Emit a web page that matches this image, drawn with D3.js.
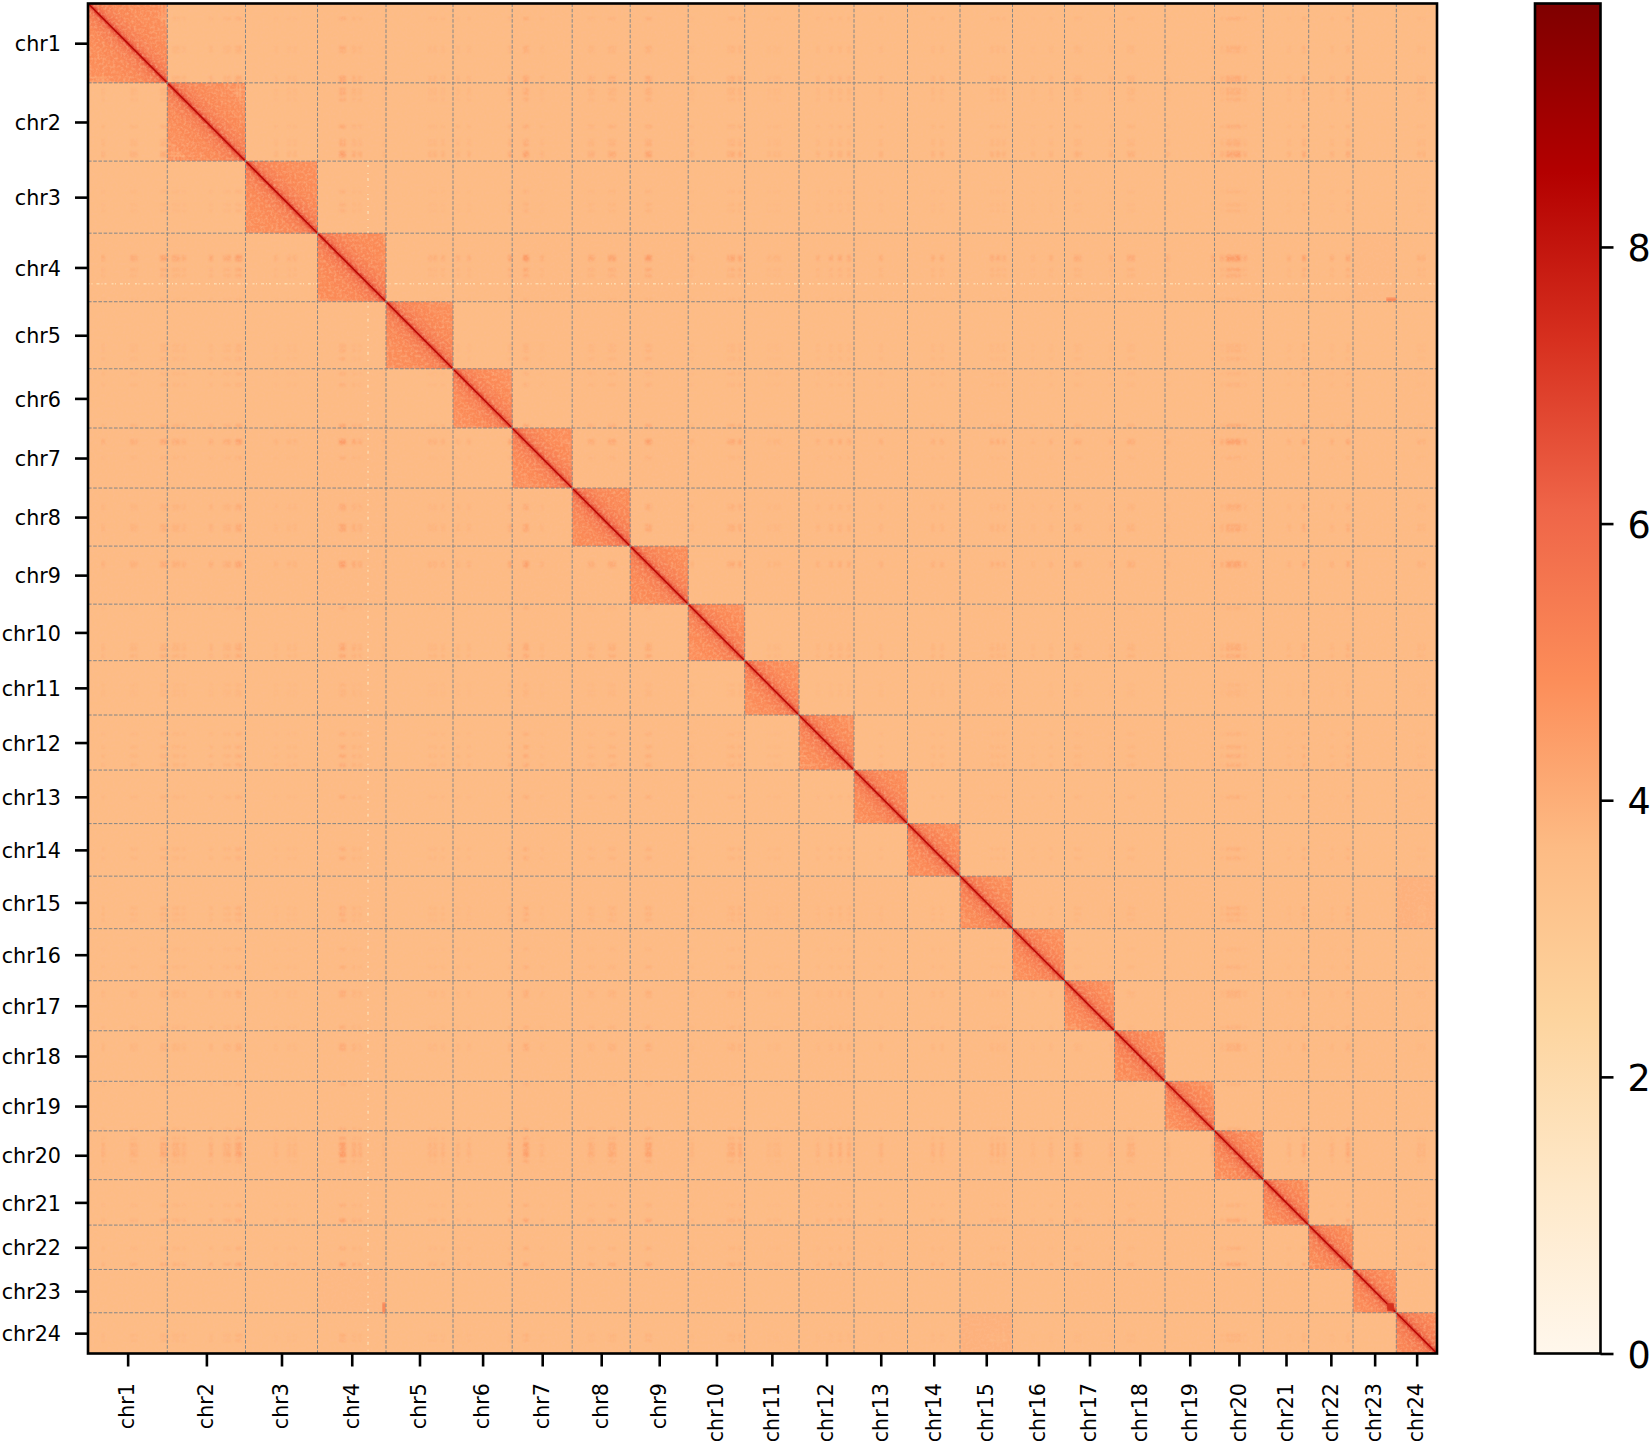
<!DOCTYPE html>
<html><head><meta charset="utf-8">
<script src="https://cdn.jsdelivr.net/npm/d3@7"></script>
<style>html,body{margin:0;background:#fff}svg{display:block}text{font-family:"DejaVu Sans",sans-serif;fill:#000}</style>
</head><body><svg id="c" width="1650" height="1444"></svg>
<script>
// Chromosomes and lengths (genome units, read from the block boundaries)
const chromNames = ["chr1","chr2","chr3","chr4","chr5","chr6","chr7","chr8","chr9","chr10","chr11","chr12","chr13","chr14","chr15","chr16","chr17","chr18","chr19","chr20","chr21","chr22","chr23","chr24"];
const chromLengths = [79.3,78.2,72,68.5,67,59.2,60,58,58,56.5,54.3,55,53.5,52.5,52.5,52,50,50.5,49.5,48.8,45.4,44.3,43.3,40.7];
// Mean contact level of each chromosome with the others
const interLevels = [3.6,3.6,3.6,3.68,3.6,3.62,3.68,3.68,3.68,3.64,3.62,3.64,3.62,3.62,3.66,3.62,3.64,3.64,3.64,3.68,3.64,3.66,3.64,3.66];
// Pairs with raised inter-chromosomal contact: [chrA, chrB, level]
const interPairs = [[14,23,3.92],[22,3,3.7]];
// Mean level far from the diagonal inside each chromosome's own block
const blockLevels = [4.85,4.85,4.85,4.9,4.85,4.8,4.8,4.9,4.85,4.8,4.8,4.85,4.85,4.8,4.85,4.8,4.8,4.85,4.8,4.85,4.85,4.85,4.8,4.95];
// Distance-from-diagonal decay: genome distance and added level
const decayDistance = [55,34,20,12,7.5,4.8,3.1];
const decayLevel =    [ 0.1,0.22,0.38,0.58,0.85,1.2,1.8];
const diagonalLevels = [7.2,8.6];
const diagonalWidths = [2.2,1.1];
// Hot loci: genome position and strength
const hotPos = [15,44,48,74,78,86,90,96,123,137,141,149,152,188,201,207,253,256,266,272,296,342,347,355,370,381,422,437,439,454,502,505,522,526,559,562,604,641,645,652,681,687,691,730,743,752,761,793,845,854,904,910,916,945,963,988,992,1023,1041,1045,1080,1125,1134,1140,1144,1148,1151,1157,1201,1216,1244,1260,1331,1336];
const hotStr = [.35,.4,.3,.55,.5,.4,.4,.35,.45,.35,.45,.6,.7,.25,.25,.25,.9,.9,.55,.45,.2,.3,.3,.3,.25,.3,.55,.8,.75,.3,.45,.35,.55,.55,.7,.7,.25,.4,.55,.55,.2,.2,.2,.3,.4,.45,.4,.35,.35,.35,.4,.4,.3,.2,.3,.4,.3,.3,.4,.4,.25,.35,.4,.8,.7,.7,.8,.4,.3,.6,.35,.6,.3,.25];
// Low-signal locus on chr4, near-white streak
const coldPos = 280;
const coldLevel = 1.9;
// Dark spot at the end of chr23 and isolated spot chr4 x chr23: [a0,a1,b0,b1,level]
const spotRanges = [[1299,1306,1299,1306,7.4],[294,298,1298,1309,5.1]];
// Colour bar
const cbDomain = [0,9.76];
const cbTicks = [0,2,4,6,8];

const svg = d3.select("#c");
const total = d3.sum(chromLengths);
const starts = d3.cumsum([0].concat(chromLengths)).slice(0,25);
const mids = chromLengths.map((l,i)=>starts[i]+l/2);
const x = d3.scaleLinear().domain([0,total]).range([88,1437]);
const y = d3.scaleLinear().domain([0,total]).range([3.5,1353.5]);
const colour = d3.scaleSequential(d3.piecewise(d3.interpolateRgb,d3.schemeOrRd[9])).domain(cbDomain);
const chrOf = p => d3.bisectRight(starts,p)-1;

const defs = svg.append("defs");
defs.append("clipPath").attr("id","plot").append("rect").attr("x",x(0)).attr("y",y(0)).attr("width",x(total)-x(0)).attr("height",y(total)-y(0));
const grain = defs.append("filter").attr("id","grain").attr("x",0).attr("y",0).attr("width",1).attr("height",1);
grain.append("feTurbulence").attr("type","fractalNoise").attr("baseFrequency",.38).attr("numOctaves",2).attr("seed",7);
grain.append("feColorMatrix").attr("values","0 0 0 0 .98  0 0 0 0 .5  0 0 0 0 .28  0 0 0 1.2 -.5");
grain.append("feGaussianBlur").attr("stdDeviation",.6);
defs.append("filter").attr("id","soft").append("feGaussianBlur").attr("stdDeviation",.5);
defs.append("filter").attr("id","softer").attr("x",0).attr("y",0).attr("width",1).attr("height",1).append("feGaussianBlur").attr("stdDeviation",.8);

const clip = svg.append("g").attr("clip-path","url(#plot)");
const heat = clip.append("g").attr("filter","url(#soft)");

// inter-chromosomal cells
const cells = [];
chromNames.forEach((_,i)=>chromNames.forEach((_,j)=>{
  if(i===j) return;
  let v=(interLevels[i]+interLevels[j])/2;
  interPairs.forEach(p=>{if((p[0]===i&&p[1]===j)||(p[0]===j&&p[1]===i))v=p[2];});
  cells.push({i,j,v});
}));
heat.selectAll("rect.cell").data(cells).join("rect").attr("class","cell")
  .attr("x",d=>x(starts[d.j])).attr("y",d=>y(starts[d.i]))
  .attr("width",d=>x(starts[d.j]+chromLengths[d.j])-x(starts[d.j])+.5)
  .attr("height",d=>y(starts[d.i]+chromLengths[d.i])-y(starts[d.i])+.5)
  .attr("fill",d=>colour(d.v));

// hot-locus interactions
const hots=[];
hotPos.forEach((a,ai)=>hotPos.forEach((b,bi)=>{
  if(chrOf(a)===chrOf(b)) return;
  const g=hotStr[ai]*hotStr[bi];
  if(g<.05) return;
  hots.push({a,b,g});
}));
const base = 3.64;
clip.append("g").attr("filter","url(#softer)").selectAll("rect.hot").data(hots).join("rect").attr("class","hot")
  .attr("x",d=>x(d.b)-1.7).attr("y",d=>y(d.a)-1.7).attr("width",3.4).attr("height",3.4)
  .attr("fill",d=>colour(base+d.g*1.35));

const heat2 = clip.append("g").attr("filter","url(#soft)");
// cold streak
const coldChr = chrOf(coldPos);
const streakX=[[0,starts[coldChr]],[starts[coldChr+1],total]];
streakX.forEach(r=>{
  heat2.append("line").attr("x1",x(r[0])).attr("x2",x(r[1])).attr("y1",y(coldPos)).attr("y2",y(coldPos))
    .attr("stroke",colour(coldLevel)).attr("stroke-width",1.6).attr("stroke-dasharray","2 1.5 1 4 3 2 1 2 2 5");
  heat2.append("line").attr("y1",y(Math.max(r[0],starts[coldChr-1]))).attr("y2",y(r[1])).attr("x1",x(coldPos)).attr("x2",x(coldPos))
    .attr("stroke",colour(coldLevel)).attr("stroke-width",1.6).attr("stroke-dasharray","1 3 2 6 1 4 3 5 1 7");
});

// intra-chromosomal blocks
chromNames.forEach((_,i)=>{
  const s=starts[i], L=chromLengths[i], e=s+L, lvl=blockLevels[i];
  const g=heat2.append("g");
  g.append("rect").attr("x",x(s)).attr("y",y(s)).attr("width",x(e)-x(s)).attr("height",y(e)-y(s)).attr("fill",colour(lvl));
  // pale stripes at hot loci
  hotPos.forEach((p,k)=>{
    if(chrOf(p)!==i) return;
    const v=colour(lvl-.35-.4*hotStr[k]);
    g.append("rect").attr("x",x(p)-1.1).attr("y",y(s)).attr("width",2.2).attr("height",y(e)-y(s)).attr("fill",v).attr("opacity",.7);
    g.append("rect").attr("x",x(s)).attr("y",y(p)-1.1).attr("width",x(e)-x(s)).attr("height",2.2).attr("fill",v).attr("opacity",.7);
  });
  decayDistance.forEach((d,k)=>{
    if(d>=L) return;
    const pts=[[s,s],[s+d,s],[e,e-d],[e,e],[e-d,e],[s,s+d]];
    g.append("polygon").attr("points",pts.map(p=>[x(p[0]),y(p[1])].join(",")).join(" ")).attr("fill",colour(lvl+decayLevel[k])).attr("opacity",k<2?.75:1);
  });
});

// grain overlay
clip.append("rect").attr("x",x(0)).attr("y",y(0)).attr("width",x(total)-x(0)).attr("height",y(total)-y(0)).attr("filter","url(#grain)");

// diagonal core, above the grain
const diag = clip.append("g").attr("fill","none");
chromNames.forEach((_,i)=>{
  const s=starts[i], e=s+chromLengths[i];
  diagonalLevels.forEach((v,k)=>diag.append("line").attr("x1",x(s)).attr("y1",y(s)).attr("x2",x(e)).attr("y2",y(e))
    .attr("stroke",colour(v)).attr("stroke-width",diagonalWidths[k]));
});
// isolated spots
spotRanges.forEach(r=>{
  [[r[0],r[1],r[2],r[3]],[r[2],r[3],r[0],r[1]]].forEach(q=>{
    clip.append("rect").attr("x",x(q[0])).attr("width",x(q[1])-x(q[0])).attr("y",y(q[2])).attr("height",y(q[3])-y(q[2])).attr("fill",colour(r[4])).attr("filter","url(#softer)");
  });
});

// dashed chromosome boundaries
const inner = starts.slice(1,24);
const grid = svg.append("g").attr("fill","none").attr("stroke","#868686").attr("stroke-width",1).attr("stroke-dasharray","3.6 1.6");
grid.selectAll("line.v").data(inner).join("line").attr("class","v").attr("x1",d=>x(d)).attr("x2",d=>x(d)).attr("y1",y(0)).attr("y2",y(total));
grid.selectAll("line.h").data(inner).join("line").attr("class","h").attr("y1",d=>y(d)).attr("y2",d=>y(d)).attr("x1",x(0)).attr("x2",x(total));

// axes
const styleAxis = g=>{g.selectAll(".domain").remove();g.selectAll("line").attr("stroke","#000").attr("stroke-width",2.6);};
const nameByMid = new Map(mids.map((m,i)=>[m,chromNames[i]]));
svg.append("g").attr("transform",`translate(${x(0)},0)`).call(d3.axisLeft(y).tickValues(mids).tickFormat(d=>nameByMid.get(d)).tickSize(13).tickPadding(14))
  .call(styleAxis).call(g=>g.selectAll("text").attr("font-size",20.7).attr("font-family",null).attr("transform","translate(0,1)"));
svg.append("g").attr("transform",`translate(0,${y(total)})`).call(d3.axisBottom(x).tickValues(mids).tickFormat(d=>nameByMid.get(d)).tickSize(13))
  .call(styleAxis).call(g=>g.selectAll("text").attr("font-size",20.7).attr("font-family",null)
    .attr("text-anchor","end").attr("x",0).attr("y",0).attr("dy",".36em").attr("transform","translate(-1.2,29.5) rotate(-90)"));
svg.append("rect").attr("x",x(0)).attr("y",y(0)).attr("width",x(total)-x(0)).attr("height",y(total)-y(0)).attr("fill","none").attr("stroke","#000").attr("stroke-width",2.6);

// colour bar
const cb = d3.scaleLinear().domain(cbDomain).range([y(total),y(0)]);
const grad = defs.append("linearGradient").attr("id","cbg").attr("x1",0).attr("x2",0).attr("y1",1).attr("y2",0);
grad.selectAll("stop").data(d3.schemeOrRd[9]).join("stop").attr("offset",(d,i)=>i/8).attr("stop-color",d=>d);
const cbL=1535, cbR=1600.5;
svg.append("rect").attr("x",cbL).attr("y",cb(cbDomain[1])).attr("width",cbR-cbL).attr("height",cb(0)-cb(cbDomain[1])).attr("fill","url(#cbg)").attr("stroke","#000").attr("stroke-width",2.6);
svg.append("g").attr("transform",`translate(${cbR},0)`).call(d3.axisRight(cb).tickValues(cbTicks).tickFormat(d3.format("d")).tickSize(13).tickPadding(14))
  .call(styleAxis).call(g=>g.selectAll("text").attr("font-size",36.5).attr("font-family",null).attr("transform","translate(0,2)"));
</script></body></html>
